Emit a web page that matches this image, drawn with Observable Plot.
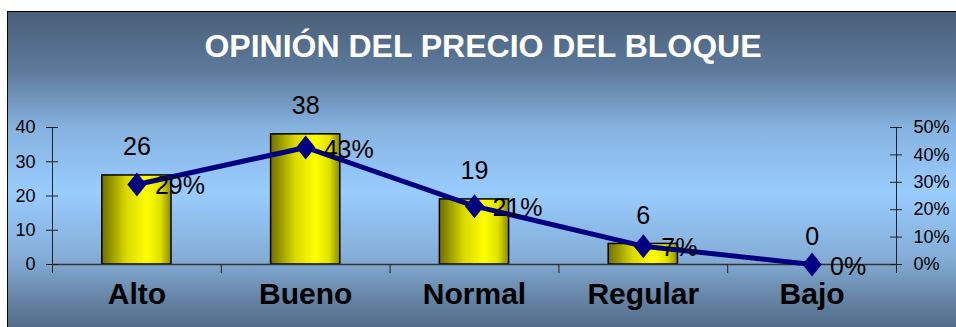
<!DOCTYPE html>
<html><head><meta charset="utf-8">
<script src="https://cdn.jsdelivr.net/npm/d3@7"></script>
<script src="https://cdn.jsdelivr.net/npm/@observablehq/plot@0.6"></script>
<style>
html,body{margin:0;padding:0;background:#fff;width:956px;height:327px;overflow:hidden;}
#wrap{position:relative;width:956px;height:327px;font-family:"Liberation Sans",Arial,sans-serif;}
#frame{position:absolute;left:7px;top:11px;width:960px;height:330px;border:1px solid #000;box-sizing:border-box;
  background:linear-gradient(to bottom,#4a5f78 0%,#5d7a9c 18%,#86b2df 35%,#99ccff 55%,#84add6 75%,#5f7c9c 90%,#4c627d 100%);}
#title{position:absolute;left:7px;width:952px;top:30px;text-align:center;color:#fff;font-weight:bold;font-size:32px;line-height:32px;}
#chart{position:absolute;left:0;top:0;}
</style></head>
<body>
<div id="wrap">
  <div id="frame"></div>
  <div id="title">OPINIÓN DEL PRECIO DEL BLOQUE</div>
  <div id="chart"></div>
</div>
<script>
const categories = ["Alto","Bueno","Normal","Regular","Bajo"];
const counts = [26,38,19,6,0];
const percents = [29.2,42.7,21.3,6.7,0];
const percentLabels = ["29%","43%","21%","7%","0%"];
const leftTicks = [0,10,20,30,40];
const rightTicks = [0,10,20,30,40,50];

const leftMax = 40, rightMax = 50;
const toLeft = p => p * leftMax / rightMax;
const data = categories.map((c,i)=>({cat:c,count:counts[i],pct:percents[i],label:percentLabels[i]}));

const W = 956, H = 327, mL = 52, mR = 60, mT = 127, mB = 63;
const step = (W - mL - mR) / categories.length;
const innerW = W - mL - mR;

const diamond = {
  draw(ctx, size){
    const r = Math.sqrt(size/Math.PI);
    const h = r*1.5, w = r*1.2;
    ctx.moveTo(0,-h); ctx.lineTo(w,0); ctx.lineTo(0,h); ctx.lineTo(-w,0); ctx.closePath();
  }
};

const font = "Liberation Sans, Arial, sans-serif";
const chart = Plot.plot({
  width: W, height: H, marginLeft: mL, marginRight: mR, marginTop: mT, marginBottom: mB,
  style: {background: "transparent", fontFamily: font, color: "#000"},
  x: {domain: categories, paddingInner: 0.59, paddingOuter: 0.295, round: false, axis: null},
  y: {domain: [0, leftMax], axis: null},
  marks: [
    Plot.barY(data.filter(d=>d.count>0), {x:"cat", y:"count", fill:"url(#barGrad)", stroke:"#000", strokeWidth:1.5}),
    Plot.ruleY([0], {stroke:"#333", strokeWidth:1.5}),
    // boundary ticks under the category axis
    Plot.ruleX(categories, {x: d=>d, dx: -step/2, y1: 0, y2: 0, insetBottom: -9, stroke:"#222", strokeWidth:1}),
    Plot.ruleX([categories[categories.length-1]], {x: d=>d, dx: step/2, y1: 0, y2: 0, insetBottom: -9, stroke:"#222", strokeWidth:1}),
    // axis lines
    Plot.ruleX([categories[0]], {x: d=>d, dx: -step/2, y1: leftMax, y2: 0, insetBottom: -9, stroke:"#222", strokeWidth:1}),
    Plot.ruleX([categories[categories.length-1]], {x: d=>d, dx: step/2, y1: leftMax, y2: 0, insetBottom: -9, stroke:"#222", strokeWidth:1}),
    // axis ticks
    Plot.tickY(leftTicks, {y: d=>d, insetLeft: 0, insetRight: innerW-12, dx: -6, stroke:"#222", strokeWidth:1}),
    Plot.tickY(rightTicks, {y: d=>toLeft(d), insetLeft: innerW-12, insetRight: 0, dx: 6, stroke:"#222", strokeWidth:1}),
    // axis labels
    Plot.text(leftTicks, {y: d=>d, text: d=>String(d), frameAnchor:"left", dx:-17, textAnchor:"end", fontSize:18, fill:"#000"}),
    Plot.text(rightTicks, {y: d=>toLeft(d), text: d=>d+"%", frameAnchor:"right", dx:17, textAnchor:"start", fontSize:18, fill:"#000"}),
    Plot.text(categories, {x: d=>d, frameAnchor:"bottom", dy: 39, text: d=>d, fontSize:30, fontWeight:"bold", fill:"#000"}),
    // line + markers
    Plot.line(data, {x:"cat", y: d=>toLeft(d.pct), stroke:"#000080", strokeWidth:5}),
    Plot.dot(data, {x:"cat", y: d=>toLeft(d.pct), symbol: diamond, r: 8, fill:"#000080", stroke:"none"}),
    // labels
    Plot.text(data, {x:"cat", y:"count", text: d=>String(d.count), dy:-28, fontSize:25, fill:"#000"}),
    Plot.text(data, {x:"cat", y: d=>toLeft(d.pct), text:"label", dx:18, dy:2, textAnchor:"start", fontSize:25, fill:"#000"})
  ]
});
chart.insertAdjacentHTML("afterbegin",
  '<defs><linearGradient id="barGrad" x1="0" y1="0" x2="1" y2="0">' +
  '<stop offset="0" stop-color="#6e6e00"/><stop offset="0.35" stop-color="#d8d800"/>' +
  '<stop offset="0.65" stop-color="#ffff00"/><stop offset="0.85" stop-color="#e0e000"/>' +
  '<stop offset="1" stop-color="#8a8a00"/></linearGradient></defs>');
document.getElementById("chart").appendChild(chart);
</script>
</body></html>
